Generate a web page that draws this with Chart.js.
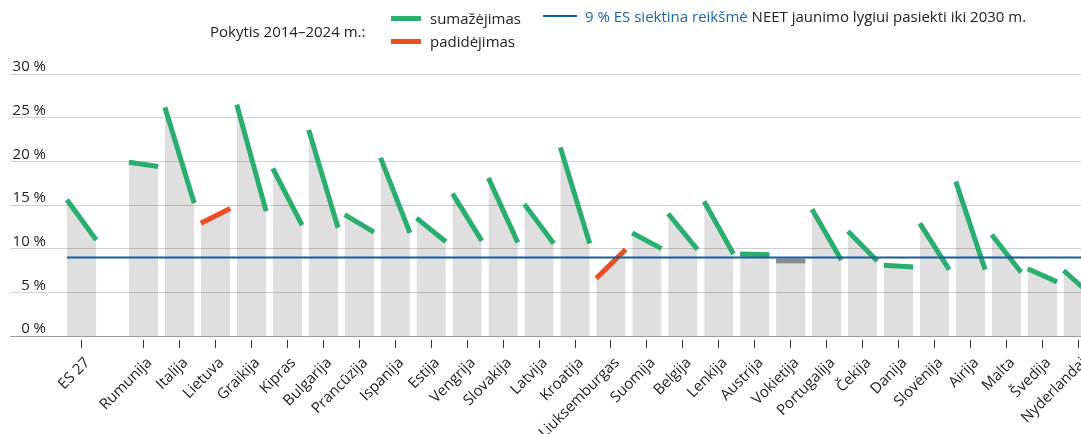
<!DOCTYPE html>
<html><head><meta charset="utf-8">
<script src="https://cdn.jsdelivr.net/npm/chart.js@4.4.1/dist/chart.umd.min.js"></script>
<style>
html,body{margin:0;padding:0;background:#fff;}
#wrap{position:relative;width:1081px;height:434px;overflow:hidden;font-family:'Open Sans',sans-serif;color:#222;}
#c{position:absolute;left:0;top:0;}
.t{position:absolute;font-size:15px;line-height:20px;white-space:nowrap;}
.sw{position:absolute;}
</style></head><body>
<div id="wrap">
<canvas id="c" width="1081" height="434"></canvas>
<div class="t" style="left:210px;top:21px">Pokytis 2014–2024 m.:</div>
<div class="sw" style="left:391px;top:16px;width:30px;height:5px;background:#2aae6f"></div>
<div class="t" style="left:430px;top:8px">sumažėjimas</div>
<div class="sw" style="left:391px;top:39px;width:30px;height:5px;background:#ee4c22"></div>
<div class="t" style="left:430px;top:31px">padidėjimas</div>
<div class="sw" style="left:543px;top:15px;width:34px;height:2px;background:#175d9a"></div>
<div class="t" style="left:585px;top:6px"><span style="color:#1d65a3">9 % ES siektina reikšmė</span> NEET jaunimo lygiui pasiekti iki 2030 m.</div>
</div>
<script>
const countries = ['ES 27','Rumunija','Italija','Lietuva','Graikija','Kipras','Bulgarija','Prancūzija','Ispanija','Estija','Vengrija','Slovakija','Latvija','Kroatija','Liuksemburgas','Suomija','Belgija','Lenkija','Austrija','Vokietija','Portugalija','Čekija','Danija','Slovėnija','Airija','Malta','Švedija','Nyderlandai'];
const rate2014 = [15.6, 19.9, 26.2, 12.9, 26.5, 19.2, 23.6, 13.9, 20.4, 13.5, 16.3, 18.1, 15.1, 21.6, 6.6, 11.8, 14.0, 15.4, 9.4, 8.6, 14.5, 12.0, 8.1, 12.9, 17.7, 11.6, 7.7, 7.5];
const rate2024 = [11.0, 19.4, 15.2, 14.6, 14.3, 12.7, 12.4, 11.9, 11.8, 10.8, 10.9, 10.7, 10.6, 10.6, 9.9, 10.0, 9.9, 9.4, 9.3, 8.6, 8.7, 8.6, 7.9, 7.6, 7.6, 7.3, 6.2, 4.5];
const targetRate = 9;
const yTicks = [0, 5, 10, 15, 20, 25, 30];

// layout constants
const GAP = 1.725, HALF = 0.408;
const GREEN = '#2aae6f', RED = '#ee4c22', GREY = '#8c8c8c', BLUE = '#175d9a';
const xPos = countries.map((_, i) => i === 0 ? 0 : GAP + i - 1);

const segPts = [];
countries.forEach((c, i) => {
  segPts.push({x: xPos[i] - HALF, y: rate2014[i]});
  segPts.push({x: xPos[i] + HALF, y: rate2024[i]});
  if (i < countries.length - 1) segPts.push({x: xPos[i] + HALF + 0.01, y: null});
});

const font = {family: "'Open Sans', sans-serif", size: 15};

new Chart(document.getElementById('c'), {
  type: 'line',
  data: {
    datasets: [
      {
        data: [{x: -HALF, y: targetRate}, {x: 40, y: targetRate}],
        borderColor: BLUE, borderWidth: 2, pointRadius: 0, fill: false, order: 0
      },
      {
        data: segPts,
        borderWidth: 5, borderCapStyle: 'butt', pointRadius: 0, tension: 0,
        fill: 'origin', backgroundColor: 'rgba(0,0,0,0.125)',
        borderColor: GREEN,
        segment: {
          borderColor: ctx => {
            const a = ctx.p0.parsed.y, b = ctx.p1.parsed.y;
            return b < a ? GREEN : (b > a ? RED : GREY);
          }
        },
        order: 1
      }
    ]
  },
  options: {
    responsive: false, animation: false, devicePixelRatio: 1,
    layout: {padding: {top: 74, left: 0, right: 0, bottom: 0}},
    plugins: {legend: {display: false}, tooltip: {enabled: false}},
    scales: {
      x: {
        type: 'linear', bounds: 'data', min: -0.99, max: 27.8,
        afterBuildTicks: s => { s.ticks = xPos.map(v => ({value: v})); },
        afterFit: s => { s.height = 98; s.paddingLeft = 0; s.paddingRight = 0; },
        grid: {display: true, drawOnChartArea: false, drawTicks: true, tickLength: 12,
               tickColor: '#333', tickWidth: 1, tickBorderDash: [0, 4, 8, 100]},
        border: {display: false},
        ticks: {autoSkip: false, maxRotation: 45, minRotation: 45, padding: 6, labelOffset: 6,
                color: '#222', font, callback: (v, i) => countries[i]}
      },
      y: {
        min: 0, max: 30,
        afterBuildTicks: s => { s.ticks = yTicks.map(v => ({value: v})); },
        afterFit: s => { s.width = 46; s.paddingTop = 0; s.paddingBottom = 0; },
        grid: {color: ctx => (ctx.tick && ctx.tick.value === 0) ? '#9c9c9c' : '#cfcfcf',
               lineWidth: 1, tickLength: 36, drawTicks: true},
        border: {display: false},
        ticks: {padding: -36, labelOffset: -7, color: '#222', font, callback: v => v + ' %'}
      }
    }
  }
});
</script>
</body></html>
